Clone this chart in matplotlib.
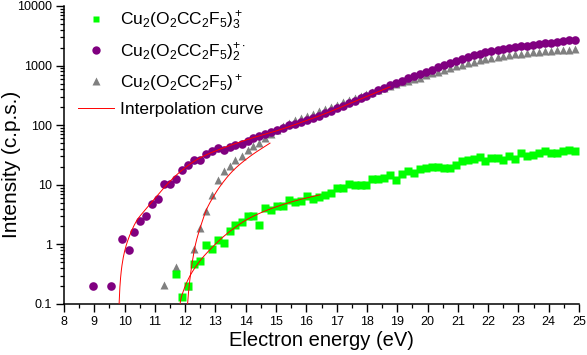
import numpy as np
import matplotlib
matplotlib.use("Agg")
import matplotlib.pyplot as plt
from matplotlib.lines import Line2D
from matplotlib.ticker import FixedLocator, MultipleLocator, NullFormatter

plt.rcParams['font.family'] = ['Liberation Sans', 'DejaVu Sans']
plt.rcParams['mathtext.fontset'] = 'custom'
plt.rcParams['mathtext.rm'] = 'Liberation Sans'
plt.rcParams['mathtext.it'] = 'Liberation Sans:italic'
plt.rcParams['mathtext.bf'] = 'Liberation Sans:bold'

nan = np.nan

# ---- data ----
energy = [8.95, 9.15, 9.34, 9.54, 9.74, 9.93, 10.13, 10.32, 10.52, 10.72,
          10.91, 11.11, 11.31, 11.50, 11.70, 11.90, 12.09, 12.29, 12.49, 12.68,
          12.88, 13.07, 13.27, 13.47, 13.66, 13.86, 14.06, 14.25, 14.45, 14.65,
          14.84, 15.04, 15.24, 15.43, 15.63, 15.82, 16.02, 16.22, 16.41, 16.61,
          16.81, 17.00, 17.20, 17.40, 17.59, 17.79, 17.98, 18.18, 18.38, 18.57,
          18.77, 18.97, 19.16, 19.36, 19.56, 19.75, 19.95, 20.15, 20.34, 20.54,
          20.73, 20.93, 21.13, 21.32, 21.52, 21.72, 21.91, 22.11, 22.31, 22.50,
          22.70, 22.89, 23.09, 23.29, 23.48, 23.68, 23.88, 24.07, 24.27, 24.47,
          24.66, 24.86]

cu2_l2 = [0.2, nan, nan, 0.2, nan, 1.24, 0.82, 1.6, 2.5, 3.0,
          4.8, 5.8, 10.3, 10.4, 12.5, 17.9, 21.7, 26.3, 26, 33,
          37, 41, 38, 43, 46, 48, 55, 60, 65, 71,
          77, 84, 91, 99, 106, 115, 124, 134, 145, 159,
          176, 193, 212, 234, 258, 285, 313, 346, 383, 422,
          464, 508, 556, 610, 670, 726, 790, 860, 935, 1020,
          1110, 1195, 1285, 1375, 1480, 1590, 1690, 1760, 1830, 1900,
          1980, 2050, 2110, 2170, 2230, 2290, 2360, 2430, 2510, 2590,
          2660, 2740]

cu2_l1 = [nan] * 12 + [
          0.21, nan, 0.42, nan, 0.2, 0.83, 1.9, 3.7,
          6.8, 12, 16.8, 21, 26, 31, 38, 45, 51, 61,
          72, 84, 97, 110, 120, 132, 143, 156, 170, 186,
          204, 222, 242, 265, 289, 313, 338, 366, 396, 428,
          460, 490, 525, 556, 593, 631, 687, 741, 795, 857,
          920, 977, 1035, 1096, 1161, 1230, 1288, 1340, 1387, 1435,
          1486, 1538, 1581, 1622, 1660, 1702, 1746, 1786, 1807, 1828,
          1849, 1871]

cu2_l3 = [nan] * 14 + [
          0.32, 0.13, 0.2, 0.46, 0.52, 0.97,
          0.84, 1.2, 1.06, 1.66, 2.1, 2.35, 2.96, 2.96, 2.15, 4.1,
          3.8, 4.47, 4.47, 5.5, 5.1, 5.3, 6.6, 5.8, 6.2, 6.7,
          7.4, 8.8, 8.9, 10.3, 9.8, 9.8, 10.0, 12.3, 12.4, 12.8,
          14.6, 12.0, 15.2, 17.0, 15.5, 18.1, 18.8, 19.7, 19.8, 19.5,
          19.2, 21.7, 24.7, 26.3, 27.0, 29.2, 25.2, 27.8, 27.8, 26.4,
          31.0, 27.2, 34.5, 31.0, 32.0, 34.5, 37.5, 34.5, 34.5, 37.5,
          39.0, 37.5]

# interpolation-curve knots (energy, intensity)
curve_l2_e = [9.80, 9.83, 9.88, 9.95, 10.05, 10.2, 10.4, 10.7, 11.06, 11.45, 11.83,
              12.2, 12.5, 13.0, 13.7, 14.3, 15.0, 15.8, 16.6, 17.44, 18.1, 18.76]
curve_l2_y = [0.04, 0.14, 0.32, 0.58, 0.95, 1.55, 2.5, 3.9, 6.4, 10.8, 16.5,
              23, 28.5, 37, 50, 63, 80, 110, 155, 232, 320, 440]
curve_l1_e = [12.06, 12.08, 12.14, 12.21, 12.35, 12.51, 12.71, 12.93, 13.15, 13.59, 14.14, 14.8]
curve_l1_y = [0.06, 0.1, 0.22, 0.42, 1.05, 2.0, 3.9, 6.3, 9.4, 17.5, 30, 50]
curve_l3_e = [11.81, 11.83, 11.95, 12.1, 12.3, 12.6, 12.9, 13.15, 13.6, 14.03, 14.5, 15.02, 15.7, 16.45]
curve_l3_y = [0.07, 0.1, 0.17, 0.26, 0.39, 0.62, 0.9, 1.2, 1.85, 2.6, 3.4, 4.3, 5.5, 6.8]

x_ticks = list(range(8, 26))
y_ticks = [0.1, 1, 10, 100, 1000, 10000]
y_ticklabels = ['0.1', '1', '10', '100', '1000', '10000']

labels = [r'Cu$_2$(O$_2$CC$_2$F$_5$)$_3^+$',
          r'Cu$_2$(O$_2$CC$_2$F$_5$)$_2^{+\bullet}$',
          r'Cu$_2$(O$_2$CC$_2$F$_5$)$^+$',
          'Interpolation curve']


def pchip(x, y, xn):
    x = np.asarray(x, float); y = np.asarray(y, float)
    h = np.diff(x); d = np.diff(y) / h
    m = np.zeros_like(y)
    m[0] = d[0]; m[-1] = d[-1]
    for i in range(1, len(x) - 1):
        if d[i - 1] * d[i] > 0:
            w1 = 2 * h[i] + h[i - 1]; w2 = h[i] + 2 * h[i - 1]
            m[i] = (w1 + w2) / (w1 / d[i - 1] + w2 / d[i])
    idx = np.clip(np.searchsorted(x, xn) - 1, 0, len(x) - 2)
    t = (xn - x[idx]) / h[idx]
    h00 = 2 * t**3 - 3 * t**2 + 1; h10 = t**3 - 2 * t**2 + t
    h01 = -2 * t**3 + 3 * t**2; h11 = t**3 - t**2
    return h00 * y[idx] + h10 * h[idx] * m[idx] + h01 * y[idx + 1] + h11 * h[idx] * m[idx + 1]


def curve(e, yv):
    en = np.linspace(e[0], e[-1], 400)
    return en, 10 ** pchip(e, np.log10(yv), en)


fig = plt.figure(figsize=(5.87, 3.55), dpi=100)
ax = fig.add_axes([64 / 587, 1 - 304 / 355, 515 / 587, 298 / 355])

ax.plot(energy, cu2_l1, ls='none', marker='^', ms=6.4, color='#808080', mec='none', zorder=2)
ax.plot(energy, cu2_l3, ls='none', marker='s', ms=5.2, color='#00FF00', mec='none', zorder=3)
ax.plot(energy, cu2_l2, ls='none', marker='o', ms=6.2, color='#800080', mec='none', zorder=4)
for ce, cy in [(curve_l2_e, curve_l2_y), (curve_l1_e, curve_l1_y), (curve_l3_e, curve_l3_y)]:
    xe, ye = curve(ce, cy)
    ax.plot(xe, ye, color='#FF0000', lw=0.7, zorder=5)

ax.set_yscale('log')
ax.set_xlim(8, 25)
ax.set_ylim(0.1, 10000)
ax.xaxis.set_major_locator(FixedLocator(x_ticks))
ax.xaxis.set_minor_locator(MultipleLocator(0.5))
ax.set_xticklabels([str(t) for t in x_ticks])
ax.yaxis.set_major_locator(FixedLocator(y_ticks))
ax.set_yticklabels(y_ticklabels)
ax.yaxis.set_minor_formatter(NullFormatter())

for s in ['top', 'right']:
    ax.spines[s].set_visible(False)
for s in ['left', 'bottom']:
    ax.spines[s].set_linewidth(1.1)
ax.tick_params(which='major', direction='out', length=5.5, width=1.0, labelsize=9, pad=3)
ax.tick_params(which='minor', direction='out', length=3, width=0.9)

ax.set_xlabel('Electron energy (eV)', fontsize=14.5, labelpad=2)
ax.set_ylabel('Intensity (c.p.s.)', fontsize=15)
ax.yaxis.set_label_coords(-0.083, 0.47)

handles = [
    Line2D([], [], ls='none', marker='s', ms=5.0, color='#00FF00', mec='none'),
    Line2D([], [], ls='none', marker='o', ms=6.0, color='#800080', mec='none'),
    Line2D([], [], ls='none', marker='^', ms=6.0, color='#808080', mec='none'),
    Line2D([], [], color='#FF0000', lw=0.7),
]
ax.legend(handles, labels, loc='upper left', bbox_to_anchor=(0.027, 0.987),
          frameon=False, fontsize=12.5, handlelength=2.1, handletextpad=0.3,
          labelspacing=0.5, borderaxespad=0, borderpad=0)

fig.savefig('out.png', dpi=100)
